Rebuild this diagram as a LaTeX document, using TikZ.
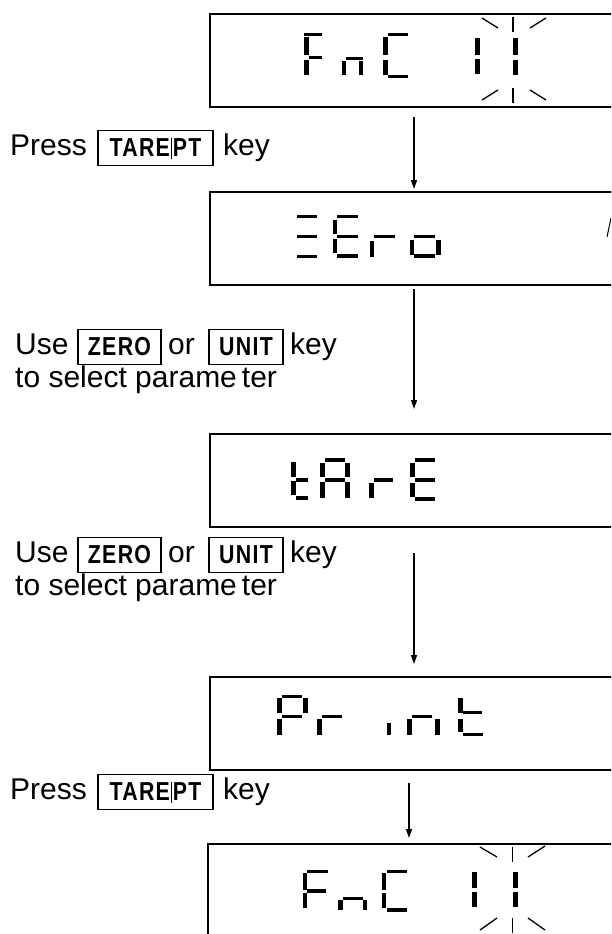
\documentclass[tikz,border=0pt]{standalone}
\usepackage{fontspec}
\setmainfont{Liberation Sans}
\usetikzlibrary{arrows.meta}
\newcommand\segbar[4]{\fill (#1,#2) rectangle (#3,#4);}
\newcommand\keysep{\kern1pt\rule[-2pt]{0.9pt}{21pt}\kern1pt}
\begin{document}
\begin{tikzpicture}[x=1pt,y=-1pt,
  disp/.style={draw, line width=2pt, minimum width=410pt, minimum height=93pt, anchor=north west, inner sep=0pt, outer sep=0pt},
  keybox/.style={draw, line width=1.6pt, minimum height=35pt, inner sep=0pt, outer sep=0pt, anchor=north west, font=\fontsize{26}{26}\selectfont\bfseries\addfontfeatures{FakeStretch=0.82,LetterSpace=5}},
  lbl/.style={anchor=base west, inner sep=0pt, font=\fontsize{30}{30}\selectfont},
  flow/.style={line width=1.5pt, -{Triangle[length=9pt,width=6pt]}},
  ray/.style={line width=1.3pt}
]
\useasboundingbox (0,0) rectangle (611,934);
\clip (0,0) rectangle (611,934);

% display boxes
\node[disp] (b1) at (210,14) {};
\node[disp] (b2) at (210,192) {};
\node[disp] (b3) at (210,434) {};
\node[disp] (b4) at (210,677) {};
\node[disp, minimum height=120pt] (b5) at (208,844) {};

% arrows
\coordinate (a1s) at (414,117); \coordinate (a1e) at (414,189);
\coordinate (a2s) at (414,289); \coordinate (a2e) at (414,409);
\coordinate (a3s) at (414,553); \coordinate (a3e) at (414,664);
\coordinate (a4s) at (409,783); \coordinate (a4e) at (409,838);
\draw[flow] (a1s) -- (a1e);
\draw[flow] (a2s) -- (a2e);
\draw[flow] (a3s) -- (a3e);
\draw[flow] (a4s) -- (a4e);

% texts
\node[lbl] (p1) at (10,155) {Press};
\node[keybox, minimum width=115pt] (k1) at (98,130.5) {TARE\keysep PT};
\node[lbl] (p1k) at (223,155) {key};

\node[lbl] (u1) at (15,354) {Use};
\node[keybox, minimum width=83pt] (z1) at (78,329.5) {ZERO};
\node[lbl] (o1) at (168,354) {or};
\node[keybox, minimum width=74pt] (n1) at (209,329.5) {UNIT};
\node[lbl] (u1k) at (290,354) {key};
\node[lbl] (s1) at (15,387) {to select parame\kern5pt ter};

\node[lbl] (u2) at (15,562) {Use};
\node[keybox, minimum width=83pt] (z2) at (78,537.5) {ZERO};
\node[lbl] (o2) at (168,562) {or};
\node[keybox, minimum width=74pt] (n2) at (209,537.5) {UNIT};
\node[lbl] (u2k) at (290,562) {key};
\node[lbl] (s2) at (15,595) {to select parame\kern5pt ter};

\node[lbl] (p2) at (10,799) {Press};
\node[keybox, minimum width=115pt] (k2) at (98,774.5) {TARE\keysep PT};
\node[lbl] (p2k) at (223,799) {key};

% ---- display 1: FnC 11 (blinking)
\segbar{304}{33}{322}{36}\segbar{304}{37}{309}{55}\segbar{309}{56}{322}{59}\segbar{304}{60}{309}{75}
\segbar{346}{57}{363}{60}\segbar{342}{61}{346}{75}\segbar{359}{61}{363}{75}
\segbar{388}{33}{408}{36}\segbar{383}{37}{388}{55}\segbar{383}{60}{388}{75}\segbar{388}{75}{408}{78}
\segbar{475}{38}{480}{55}\segbar{475}{59}{480}{74}
\segbar{513}{38}{518}{55}\segbar{513}{60}{518}{75}
\draw[ray] (513,17) -- (513,32);
\draw[ray] (482,18) -- (498,28);
\draw[ray] (530,28) -- (546,18);
\draw[ray] (513,88) -- (513,103);
\draw[ray] (482,100) -- (498,90);
\draw[ray] (530,90) -- (546,100);

% ---- display 2: ZEro
\segbar{297}{215}{317}{218}\segbar{297}{235}{317}{238}\segbar{297}{255}{317}{258}
\segbar{333}{220}{337}{234}\segbar{333}{239}{337}{253}
\segbar{337}{215}{358}{218}\segbar{337}{235}{358}{238}\segbar{337}{254}{358}{258}
\segbar{370}{241}{374}{257}\segbar{374}{235}{395}{238}
\segbar{410}{240}{414}{255}\segbar{414}{235}{435}{238}\segbar{436}{240}{441}{255}\segbar{414}{254}{435}{258}
\draw[line width=1pt] (607,237) -- (611,218);

% ---- display 3: tArE
\segbar{291}{462}{296}{477}\segbar{291}{481}{296}{495}\segbar{296}{478}{308}{482}\segbar{296}{496}{308}{500}
\segbar{320}{463}{325}{477}\segbar{320}{482}{325}{498}\segbar{325}{458}{345}{462}
\segbar{345}{463}{350}{477}\segbar{345}{482}{350}{498}\segbar{325}{478}{345}{482}
\segbar{369}{483}{374}{498}\segbar{374}{478}{393}{482}
\segbar{410}{463}{415}{477}\segbar{410}{483}{415}{497}
\segbar{415}{458}{435}{462}\segbar{415}{478}{435}{482}\segbar{415}{497}{435}{501}

% ---- display 4: Print
\segbar{277}{698}{282}{713}\segbar{277}{719}{282}{735}\segbar{282}{695}{302}{698}
\segbar{303}{698}{308}{713}\segbar{282}{715}{302}{718}
\segbar{317}{719}{322}{735}\segbar{322}{715}{342}{718}
\segbar{387}{723}{391}{735}
\segbar{407}{719}{412}{735}\segbar{412}{715}{432}{718}\segbar{435}{719}{440}{735}
\segbar{458}{698}{463}{713}\segbar{458}{719}{463}{732}\segbar{463}{711}{482}{714}\segbar{463}{733}{483}{736}

% ---- display 5: FnC 11 (blinking)
\segbar{303}{873}{307}{890}\segbar{303}{893}{307}{908}\segbar{307}{870}{328}{873}\segbar{307}{889}{326}{893}
\segbar{338}{900}{343}{910}\segbar{343}{897}{363}{900}\segbar{363}{900}{367}{910}
\segbar{382}{873}{386}{890}\segbar{382}{893}{386}{908}\segbar{387}{870}{407}{873}\segbar{387}{908}{407}{912}
\segbar{472}{872}{477}{888}\segbar{472}{892}{477}{907}
\segbar{513}{872}{518}{888}\segbar{513}{892}{518}{907}
\draw[ray] (512.5,847) -- (512.5,862);
\draw[ray] (480,847) -- (497,857);
\draw[ray] (528,857) -- (545,846);
\draw[ray] (512.5,918) -- (512.5,933);
\draw[ray] (480,930) -- (497,918);
\draw[ray] (528,918) -- (545,930);
\end{tikzpicture}
\end{document}
